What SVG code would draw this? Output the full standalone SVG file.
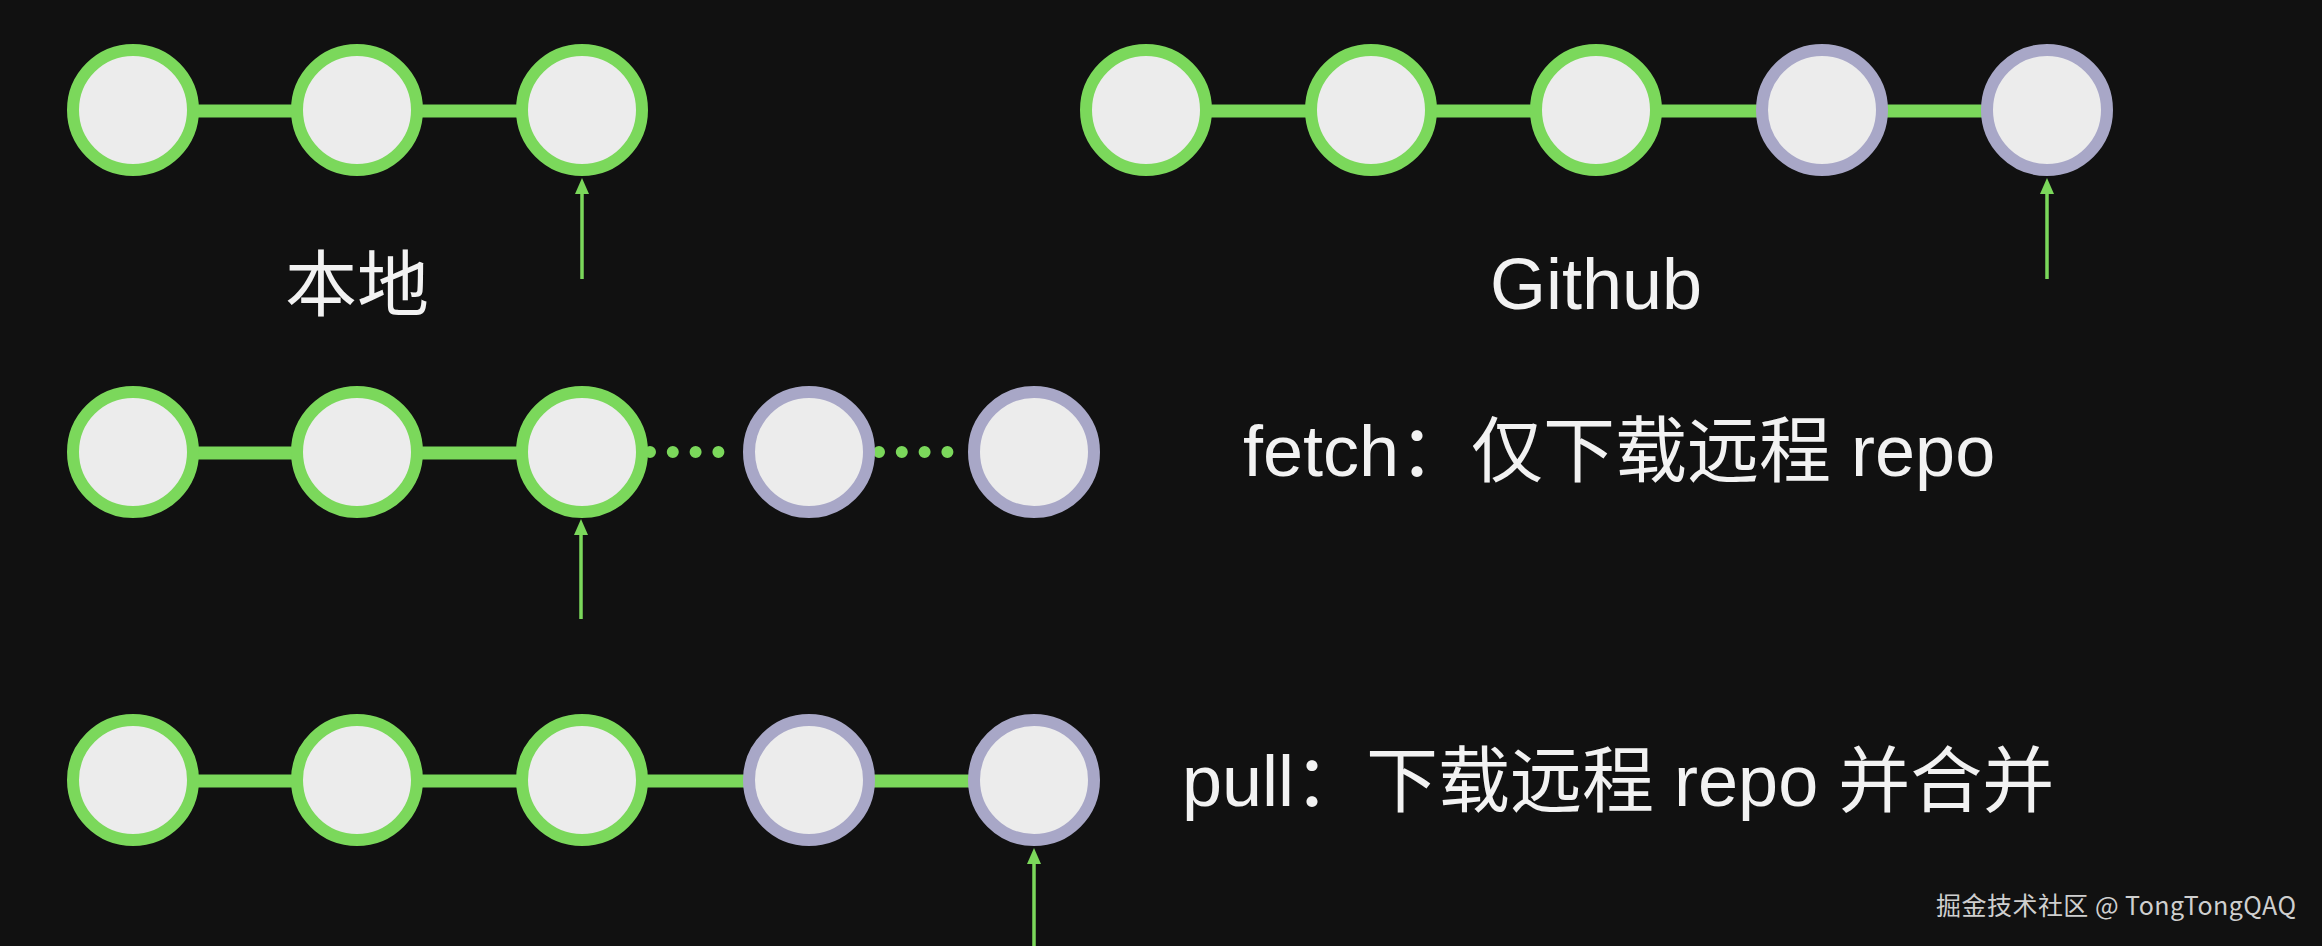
<svg xmlns="http://www.w3.org/2000/svg" width="2322" height="946" viewBox="0 0 2322 946">
  <style>
    .commit { fill: #ececec; stroke-width: 12; }
    .local { stroke: #7bd85b; }
    .remote { stroke: #a8a7c7; }
    .link { stroke: #7bd85b; stroke-width: 13; fill: none; }
    .dots { stroke: #7bd85b; stroke-width: 12; stroke-linecap: round; stroke-dasharray: 0 22.8; fill: none; }
    .ptr { stroke: #7bd85b; stroke-width: 3.5; fill: none; marker-end: url(#head); }
    .label { fill: #f2f2f2; font-family: "Liberation Sans", "Noto Sans CJK SC", sans-serif; font-size: 72px; }
    .mark { fill: #cfcfcf; font-family: "Noto Sans CJK SC", "Noto Sans", sans-serif; font-size: 25px; }
  </style>
  <defs>
    <marker id="head" viewBox="0 0 16 14" refX="4" refY="7" markerWidth="16" markerHeight="14" markerUnits="userSpaceOnUse" orient="auto">
      <path d="M0,0 L16,7 L0,14 Z" fill="#7bd85b"/>
    </marker>
  </defs>
  <rect x="0" y="0" width="2322" height="946" fill="#111111"/>

  <g id="connectors">
    <!-- row 1 local -->
    <line class="link" x1="133" y1="111" x2="357" y2="111"/>
    <line class="link" x1="357" y1="111" x2="582" y2="111"/>
    <!-- row 1 github -->
    <line class="link" x1="1146" y1="111" x2="1371" y2="111"/>
    <line class="link" x1="1371" y1="111" x2="1596" y2="111"/>
    <line class="link" x1="1596" y1="111" x2="1822" y2="111"/>
    <line class="link" x1="1822" y1="111" x2="2047" y2="111"/>
    <!-- row 2 fetch -->
    <line class="link" x1="133" y1="453" x2="357" y2="453"/>
    <line class="link" x1="357" y1="453" x2="582" y2="453"/>
    <line class="dots" x1="650" y1="452" x2="719" y2="452"/>
    <line class="dots" x1="879" y1="452" x2="948" y2="452"/>
    <!-- row 3 pull -->
    <line class="link" x1="133" y1="781" x2="357" y2="781"/>
    <line class="link" x1="357" y1="781" x2="582" y2="781"/>
    <line class="link" x1="582" y1="781" x2="809" y2="781"/>
    <line class="link" x1="809" y1="781" x2="1034" y2="781"/>
    <!-- pointers -->
    <path class="ptr" d="M582,279 L582,190"/>
    <path class="ptr" d="M2047,279 L2047,190"/>
    <path class="ptr" d="M581,619 L581,531"/>
    <path class="ptr" d="M1034,950 L1034,860"/>
  </g>

  <g id="local-1"><circle class="commit local" cx="133" cy="110" r="60"/></g>
  <g id="local-2"><circle class="commit local" cx="357" cy="110" r="60"/></g>
  <g id="local-3"><circle class="commit local" cx="582" cy="110" r="60"/></g>

  <g id="github-1"><circle class="commit local" cx="1146" cy="110" r="60"/></g>
  <g id="github-2"><circle class="commit local" cx="1371" cy="110" r="60"/></g>
  <g id="github-3"><circle class="commit local" cx="1596" cy="110" r="60"/></g>
  <g id="github-4"><circle class="commit remote" cx="1822" cy="110" r="60"/></g>
  <g id="github-5"><circle class="commit remote" cx="2047" cy="110" r="60"/></g>

  <g id="fetch-1"><circle class="commit local" cx="133" cy="452" r="60"/></g>
  <g id="fetch-2"><circle class="commit local" cx="357" cy="452" r="60"/></g>
  <g id="fetch-3"><circle class="commit local" cx="582" cy="452" r="60"/></g>
  <g id="fetch-4"><circle class="commit remote" cx="809" cy="452" r="60"/></g>
  <g id="fetch-5"><circle class="commit remote" cx="1034" cy="452" r="60"/></g>

  <g id="pull-1"><circle class="commit local" cx="133" cy="780" r="60"/></g>
  <g id="pull-2"><circle class="commit local" cx="357" cy="780" r="60"/></g>
  <g id="pull-3"><circle class="commit local" cx="582" cy="780" r="60"/></g>
  <g id="pull-4"><circle class="commit remote" cx="809" cy="780" r="60"/></g>
  <g id="pull-5"><circle class="commit remote" cx="1034" cy="780" r="60"/></g>

  <g id="labels">
    <text class="label" x="357" y="310" text-anchor="middle">本地</text>
    <text class="label" x="1596" y="309" text-anchor="middle">Github</text>
    <text class="label" x="1243" y="476">fetch：仅下载远程 repo</text>
    <text class="label" x="1182" y="806">pull：下载远程 repo 并合并</text>
    <text class="mark" x="1936" y="915" textLength="360" lengthAdjust="spacing">掘金技术社区 @ TongTongQAQ</text>
  </g>
</svg>
